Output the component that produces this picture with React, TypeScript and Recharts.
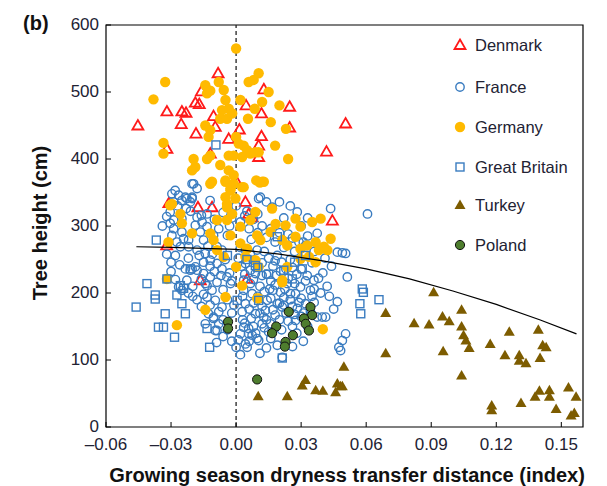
import React from "react";
import { ScatterChart, Scatter, XAxis, YAxis, ReferenceLine, ReferenceArea } from "recharts";

// [dryness transfer distance, tree height cm]
const denmark: [number, number][] = [
  [-0.0453, 450], [-0.0319, 471], [-0.025, 471], [-0.0231, 469], [-0.0253, 452], [-0.0188, 484],
  [-0.017, 482], [-0.016, 501], [-0.0185, 438], [-0.0319, 415], [-0.0083, 528], [-0.0104, 464],
  [-0.0096, 448], [-0.0119, 408], [-0.0034, 430], [0.0015, 444], [-0.0003, 369], [0.0046, 480],
  [0.0117, 468], [0.0117, 434], [0.0104, 420], [0.0104, 403], [0.0128, 504], [-0.0176, 328],
  [-0.0111, 328], [-0.031, 334], [0.0247, 478], [0.0247, 447], [0.0417, 411], [0.0505, 453],
  [0.0444, 308], [0.0043, 336], [0.0058, 318], [0.0051, 221], [-0.0165, 219], [0.0074, 313],
  [-0.032, 271],
];

const france: [number, number][] = [
  [-0.0281, 353], [-0.0296, 348], [-0.0265, 346], [-0.0234, 343], [-0.0203, 343], [-0.025, 338],
  [-0.0211, 336], [-0.0203, 363], [-0.018, 356], [-0.0196, 363], [-0.0288, 336], [-0.0203, 341],
  [-0.0227, 341], [0.0104, 341], [0.0112, 343], [0.014, 336], [0.0166, 328], [0.0282, 321],
  [0.0436, 326], [0.0606, 318],
  [-0.0304, 321], [-0.0288, 309], [-0.0288, 296], [-0.025, 291], [-0.0219, 279], [-0.018, 313],
  [-0.0157, 306], [-0.0134, 318], [-0.0134, 299], [-0.0188, 301], [-0.0165, 291], [-0.0104, 286],
  [-0.0242, 281], [-0.0304, 304], [-0.0296, 286], [-0.0273, 276], [-0.015, 279],
  [-0.0257, 269], [-0.018, 264], [-0.0142, 259], [-0.015, 246], [-0.0119, 249], [-0.0088, 244],
  [-0.0065, 236], [-0.018, 234], [-0.0203, 236], [-0.0219, 269], [-0.0088, 269], [-0.0065, 264],
  [-0.0234, 236], [-0.0211, 234], [-0.0188, 239],
  [-0.015, 229], [-0.0119, 224], [-0.0088, 216], [-0.0134, 211], [-0.0042, 224], [-0.0026, 214],
  [-0.0227, 219], [-0.0265, 209], [-0.025, 204], [-0.0142, 214], [-0.0111, 204], [-0.0134, 194],
  [-0.0096, 189], [-0.0065, 179], [-0.0127, 169], [-0.0104, 162], [-0.008, 154], [-0.0142, 154],
  [-0.0096, 144], [-0.0104, 164], [-0.0088, 144],
  [0.0043, 264], [0.0066, 259], [0.0097, 264], [0.0081, 249], [0.0043, 244], [0.0066, 234],
  [0.0089, 229], [0.0035, 219], [0.0066, 214], [0.0035, 149], [0.0058, 139], [0.0104, 129],
  [0.0, 119], [0.0043, 124], [0.0089, 169], [0.012, 154], [0.0028, 172], [0.0043, 184],
  [0.0074, 199], [0.0035, 204], [0.0058, 147], [0.0074, 137], [0.0135, 174], [0.0213, 179],
  [0.0205, 201], [0.0274, 199], [0.0051, 119], [0.0097, 132], [0.0213, 104], [0.0159, 154],
  [0.0128, 164], [0.002, 139], [0.0374, 164], [0.0343, 204], [0.0251, 199], [0.0282, 177],
  [0.019, 184], [0.0143, 189], [0.0236, 214],
  [0.0374, 289], [0.029, 276], [0.032, 271], [0.0467, 261], [0.049, 260], [0.0505, 259],
  [0.0513, 224], [0.0359, 219], [0.0328, 226], [0.0297, 209], [0.0467, 187], [0.0413, 164],
  [0.0343, 172], [0.0274, 159], [0.0505, 139], [0.049, 129], [0.0474, 119], [0.0482, 114],
  [0.0397, 164],
  [0.012, 245], [0.015, 252], [0.017, 240], [0.019, 256], [0.021, 246], [0.023, 236],
  [0.025, 250], [0.014, 228], [0.016, 218], [0.0185, 226], [0.0205, 232], [0.024, 222],
  [0.026, 238], [0.011, 210], [0.013, 202], [0.0155, 206], [0.018, 212], [0.0225, 206],
  [0.025, 190], [0.03, 192], [0.032, 184], [0.016, 192], [0.01, 195], [0.008, 185],
  [0.018, 167], [0.023, 170], [0.03, 165], [0.026, 150], [0.015, 142], [0.012, 180],
  [0.006, 176], [0.003, 160], [-0.002, 170], [-0.004, 190], [-0.006, 205], [-0.003, 230],
  [-0.005, 250], [0.001, 252], [0.0025, 240], [-0.01, 232], [-0.016, 221], [-0.018, 190],
  [-0.016, 180], [-0.02, 195], [-0.006, 160], [-0.004, 145], [0.001, 130], [0.008, 150],
  [0.02, 160], [0.028, 140], [0.033, 150], [0.036, 186], [0.039, 200], [0.042, 210],
  [0.03, 236], [0.035, 245], [0.04, 230], [0.027, 262], [0.022, 268], [0.018, 276],
  [0.014, 283], [0.01, 290], [0.006, 296], [0.002, 306], [-0.002, 312], [0.008, 310],
  [0.016, 296], [0.024, 288], [0.03, 300], [0.033, 285], [0.022, 312], [-0.006, 320],
  [-0.01, 310], [-0.008, 296], [-0.004, 286], [-0.013, 270], [-0.011, 258], [-0.028, 256],
  [-0.03, 246], [-0.032, 258], [-0.034, 300], [-0.032, 314], [-0.023, 326], [-0.025, 311],
  [-0.012, 338], [0.0, 330], [0.005, 322], [0.02, 336], [0.025, 330], [0.01, 318], [0.033, 312],
  [0.004, 155], [0.007, 162], [0.011, 170], [0.014, 160], [0.017, 175], [0.02, 185],
  [0.022, 193], [0.026, 180], [0.029, 186], [0.031, 170], [0.027, 168], [0.024, 158],
  [0.021, 145], [0.013, 148], [0.009, 140], [0.006, 128], [0.016, 132], [0.019, 122],
  [0.014, 118], [0.011, 110], [0.002, 108], [-0.002, 128], [-0.006, 135], [-0.008, 172],
  [-0.012, 182], [-0.015, 198], [-0.02, 210], [-0.022, 200], [-0.028, 220], [-0.03, 232],
  [-0.026, 242], [-0.022, 252], [-0.017, 256], [-0.012, 240], [-0.007, 226], [-0.002, 218],
  [0.004, 228], [0.008, 220], [0.012, 226], [0.027, 214], [0.032, 218], [0.036, 206],
  [0.038, 222], [0.044, 240], [0.041, 252], [0.036, 262], [0.031, 276], [0.026, 282],
  [0.02, 290], [0.012, 300], [0.004, 315], [-0.003, 300], [-0.016, 316], [-0.021, 322],
  [-0.027, 330], [0.002, 268], [0.007, 280], [0.013, 262], [0.018, 248], [0.028, 228],
  [0.017, 204], [0.022, 182], [0.035, 195], [0.003, 195], [-0.001, 182], [0.045, 176],
  [0.043, 195], [-0.009, 126], [0.026, 120], [0.031, 128],
];

const germany: [number, number][] = [
  [0.0, 565], [-0.0327, 515], [-0.0381, 489], [-0.0335, 424], [-0.0335, 408], [-0.0142, 510],
  [-0.0119, 502], [-0.0134, 498], [-0.008, 515], [-0.0057, 503], [-0.0049, 488], [-0.0065, 473],
  [-0.0034, 475], [-0.0073, 460], [-0.0042, 460], [-0.0018, 468], [0.002, 488], [0.0055, 460],
  [0.0086, 475], [0.0058, 515], [0.0081, 518], [0.0104, 528], [0.012, 485], [-0.0142, 450],
  [-0.0119, 443], [-0.0127, 433], [0.0, 433], [0.0012, 423], [0.0035, 420], [0.0051, 413],
  [0.0066, 408], [0.0089, 410], [0.0104, 410], [0.0028, 403], [-0.0011, 405], [-0.0034, 405],
  [-0.0196, 400], [-0.0188, 388], [-0.0134, 400], [-0.0119, 405], [-0.0073, 391], [-0.0034, 383],
  [-0.0011, 376], [-0.0111, 366], [-0.0049, 366], [-0.0011, 363], [0.0035, 358], [-0.0026, 353],
  [-0.0049, 343], [-0.0003, 341], [0.012, 366], [-0.0296, 333], [-0.0042, 333],
  [0.015, 500], [0.02, 480], [0.016, 455], [0.023, 445], [0.018, 420], [0.024, 400],
  [0.0128, 366], [0.011, 365], [0.0028, 358], [0.0166, 326], [0.0089, 321], [0.0274, 311],
  [0.0351, 306], [0.039, 311], [0.0182, 303], [0.0228, 301], [0.0297, 299], [0.0159, 291],
  [0.0274, 284], [0.0367, 276], [0.0436, 281], [0.0405, 269], [0.0382, 264], [0.0421, 264],
  [0.0328, 271], [0.0236, 271], [0.0213, 279], [0.0112, 279], [0.0051, 266], [0.0097, 286],
  [0.0297, 266], [0.0336, 254], [0.0297, 251], [0.0236, 239], [0.0104, 239], [0.0043, 254],
  [0.0213, 219], [0.0367, 246],
  [-0.0203, 383], [-0.0119, 363], [-0.0049, 368], [-0.0026, 356], [0.0093, 368], [-0.0304, 331],
  [-0.0257, 318], [-0.025, 304], [-0.0203, 289], [-0.0312, 276], [-0.0119, 289], [-0.0104, 279],
  [-0.0088, 309], [-0.0042, 309], [-0.0018, 318], [-0.0042, 328], [0.002, 299], [0.0066, 309],
  [-0.0057, 254], [0.0, 239], [0.0089, 249], [0.002, 274], [-0.0026, 286], [-0.0088, 264],
  [-0.0319, 221],
  [-0.0049, 194], [-0.0142, 175], [-0.0273, 152], [0.0028, 211], [0.0097, 192], [0.0213, 216],
  [0.04, 146], [0.0104, 192],
];

const greatBritain: [number, number][] = [
  [-0.0093, 421], [-0.0368, 279], [-0.0411, 214], [-0.0461, 179], [-0.0373, 197], [-0.0373, 191],
  [-0.0327, 169], [-0.0358, 149], [-0.0335, 149], [-0.0284, 134], [-0.0234, 169], [-0.025, 184],
  [-0.0273, 197], [-0.0242, 207], [-0.0122, 119], [-0.0134, 147], [-0.0257, 211], [0.0213, 103],
  [0.0587, 201], [0.0571, 184], [0.0575, 169], [0.0659, 190], [0.0005, 189], [0.0104, 189],
  [-0.0211, 236], [0.019, 284], [0.0089, 241], [0.0305, 236], [0.0259, 221], [0.022, 234],
  [0.0582, 206], [-0.0319, 221], [0.01, 238], [0.005, 250], [-0.004, 256], [0.015, 228],
  [0.027, 246], [0.032, 256],
];

const turkey: [number, number][] = [
  [0.0911, 201], [0.069, 170], [0.0821, 155], [0.089, 153], [0.0952, 165], [0.0983, 158],
  [0.104, 175], [0.104, 150], [0.1049, 137], [0.106, 129], [0.1075, 118], [0.1172, 124],
  [0.126, 142], [0.124, 107], [0.1306, 107], [0.1306, 99], [0.1337, 95], [0.1394, 145],
  [0.1414, 122], [0.143, 119], [0.1402, 103], [0.069, 110], [0.0955, 113], [0.104, 77],
  [0.1179, 32], [0.1179, 25], [0.1314, 36], [0.1379, 45], [0.1399, 54], [0.1445, 55],
  [0.1445, 45], [0.1476, 27], [0.1533, 59], [0.1568, 45], [0.1545, 17], [0.156, 21],
  [0.0497, 90], [0.049, 61], [0.0102, 46], [0.0236, 46], [0.032, 70], [0.0305, 62],
  [0.0367, 55], [0.04, 54], [0.0459, 52], [0.0467, 65], [0.0482, 61],
];

const poland: [number, number][] = [
  [-0.0037, 157], [-0.0037, 147], [0.0243, 172], [0.0343, 179], [0.0351, 167], [0.0313, 162],
  [0.0321, 154], [0.0336, 144], [0.0185, 150], [0.0166, 140], [0.0262, 137], [0.0228, 127],
  [0.0225, 120], [0.0097, 71],
];

// fitted curve
const curve: [number, number][] = [
  [-0.046, 269], [-0.03, 268], [-0.015, 266.5], [0, 265], [0.02, 258], [0.04, 248], [0.06, 236],
  [0.08, 221], [0.1, 203], [0.12, 183], [0.14, 160], [0.157, 139],
];

const xTicks = [-0.06, -0.03, 0, 0.03, 0.06, 0.09, 0.12, 0.15];
const yTicks = [0, 100, 200, 300, 400, 500, 600];

const toPts = (arr: [number, number][]) => arr.map(([x, y]) => ({ x, y }));

const BLUE = "#3a7cc0";
const ORANGE = "#ffba00";
const OLIVE = "#7d5c00";
const TEXT = "#222233";

const marks: Record<string, (cx: number, cy: number) => React.ReactElement> = {
  Denmark: (cx, cy) => (
    <path d={`M${cx},${cy - 5.5}L${cx + 5.5},${cy + 4}L${cx - 5.5},${cy + 4}Z`} fill="none" stroke="#ff1a1a" strokeWidth={1.8} />
  ),
  France: (cx, cy) => <circle cx={cx} cy={cy} r={4.2} fill="none" stroke={BLUE} strokeWidth={1.4} />,
  Germany: (cx, cy) => <circle cx={cx} cy={cy} r={5.2} fill={ORANGE} />,
  "Great Britain": (cx, cy) => (
    <rect x={cx - 4} y={cy - 4} width={8} height={8} fill="none" stroke={BLUE} strokeWidth={1.4} />
  ),
  Turkey: (cx, cy) => <path d={`M${cx},${cy - 5.5}L${cx + 5.5},${cy + 4}L${cx - 5.5},${cy + 4}Z`} fill={OLIVE} />,
  Poland: (cx, cy) => <circle cx={cx} cy={cy} r={4.6} fill="#4e7d2e" stroke="#111" strokeWidth={1} />,
};

const series = [
  { name: "Denmark", data: denmark },
  { name: "France", data: france },
  { name: "Germany", data: germany },
  { name: "Great Britain", data: greatBritain },
  { name: "Turkey", data: turkey },
  { name: "Poland", data: poland },
];

const fmtX = (v: number) => (v < 0 ? "\u2013" + Math.abs(v).toFixed(2) : v.toFixed(2));

const XTick = (props: any) => {
  const { x, y, payload } = props;
  return (
    <g>
      <line x1={x} x2={x} y1={y} y2={y - 5} stroke="#000" />
      <text x={x} y={y + 23} textAnchor="middle" fontSize={17} fill={TEXT}>
        {fmtX(payload.value)}
      </text>
    </g>
  );
};

const YTick = (props: any) => {
  const { x, y, payload } = props;
  return (
    <g>
      <line x1={x} x2={x + 5} y1={y} y2={y} stroke="#000" />
      <text x={x - 7} y={y + 5} textAnchor="end" fontSize={17} fill={TEXT}>
        {payload.value}
      </text>
    </g>
  );
};

export default function App() {
  return (
    <div
      style={{
        position: "absolute",
        left: 0,
        top: 0,
        width: 607,
        height: 486,
        background: "#fff",
        fontFamily: "'Liberation Sans', Arial, sans-serif",
      }}
    >
      <ScatterChart width={607} height={486} margin={{ top: 25, right: 24, bottom: 0, left: 0 }}>
        <XAxis
          type="number"
          dataKey="x"
          domain={[-0.06, 0.16]}
          ticks={xTicks}
          allowDataOverflow
          height={59}
          tickSize={0}
          tickMargin={0}
          axisLine={false}
          tick={<XTick />}
          interval={0}
        />
        <YAxis
          type="number"
          dataKey="y"
          domain={[0, 600]}
          ticks={yTicks}
          allowDataOverflow
          width={106}
          tickSize={0}
          tickMargin={0}
          axisLine={false}
          tick={<YTick />}
          interval={0}
        />
        <ReferenceArea x1={-0.06} x2={0.16} y1={0} y2={600} fill="none" stroke="#000" strokeWidth={1.2} />
        {series.map((s) => (
          <Scatter
            key={s.name}
            name={s.name}
            data={toPts(s.data)}
            isAnimationActive={false}
            shape={(p: any) => marks[s.name](p.cx, p.cy)}
          />
        ))}
        <ReferenceLine x={0} stroke="#222" strokeDasharray="4 3" strokeWidth={1.3} />
        <Scatter
          name="fit"
          data={toPts(curve)}
          isAnimationActive={false}
          line={{ stroke: "#000", strokeWidth: 1.2 }}
          lineType="joint"
          shape={() => <g />}
        />
      </ScatterChart>

      <div style={{ position: "absolute", left: 23, top: 13, fontSize: 20, fontWeight: "bold", lineHeight: "20px", color: "#111" }}>
        (b)
      </div>
      <div
        style={{
          position: "absolute",
          left: -110,
          top: 212.5,
          width: 300,
          height: 20,
          lineHeight: "20px",
          textAlign: "center",
          fontSize: 20,
          fontWeight: "bold",
          color: "#111",
          transform: "rotate(-90deg)",
        }}
      >
        Tree height (cm)
      </div>
      <div
        style={{
          position: "absolute",
          left: 47,
          top: 465,
          width: 600,
          lineHeight: "20px",
          textAlign: "center",
          fontSize: 20,
          fontWeight: "bold",
          color: "#111",
        }}
      >
        Growing season dryness transfer distance (index)
      </div>

      <div style={{ position: "absolute", left: 452, top: 35 }}>
        {series.map((s, i) => (
          <div key={s.name} style={{ position: "absolute", left: 0, top: [0, 41.7, 81.7, 121.7, 160, 200][i], height: 20, width: 150 }}>
            <svg width={16} height={20} style={{ position: "absolute", left: 0, top: 0 }}>
              {marks[s.name](8, 10)}
            </svg>
            <span style={{ position: "absolute", left: 23, top: 0, lineHeight: "20px", fontSize: 16.5, color: TEXT, whiteSpace: "nowrap" }}>
              {s.name}
            </span>
          </div>
        ))}
      </div>
    </div>
  );
}
